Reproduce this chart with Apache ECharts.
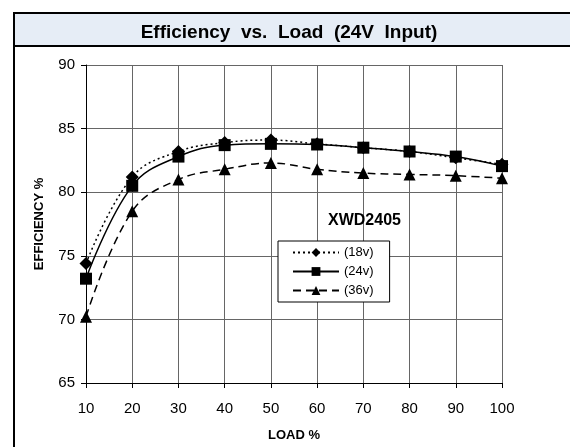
<!DOCTYPE html>
<html>
<head>
<meta charset="utf-8">
<script src="https://cdn.jsdelivr.net/npm/echarts@6/dist/echarts.min.js"></script>
<style>
  html, body { margin: 0; padding: 0; background: #fff; }
  #chart { width: 570px; height: 447px; }
</style>
</head>
<body>
<div id="chart"></div>
<script>
  const loads = [10, 20, 30, 40, 50, 60, 70, 80, 90, 100];
  const eff18 = [74.4, 81.2, 83.2, 83.9, 84.1, 83.8, 83.5, 83.2, 82.7, 82.2];
  const eff24 = [73.2, 80.5, 82.8, 83.7, 83.8, 83.75, 83.5, 83.2, 82.8, 82.05];
  const eff36 = [70.2, 78.5, 81.0, 81.8, 82.3, 81.8, 81.5, 81.4, 81.3, 81.1];

  const pairs = ys => loads.map((x, i) => [x, ys[i]]);
  const font = "Arial, 'Liberation Sans', sans-serif";

  const chart = echarts.init(document.getElementById("chart"), null, { renderer: "canvas" });

  function lineSeries(name, ys, symbol, size, type) {
    return {
      name, type: "line", data: pairs(ys), smooth: 0.4,
      symbol, symbolSize: size,
      lineStyle: { color: "#000", width: 1.5, type },
      itemStyle: { color: "#000" },
      z: 3
    };
  }

  chart.setOption({
    animation: false,
    backgroundColor: "#fff",
    graphic: [
      { type: "rect", shape: { x: 14, y: 13, width: 570, height: 450 }, style: { fill: "#fff", stroke: "#000", lineWidth: 2 }, z: -10 },
      { type: "rect", shape: { x: 15, y: 14, width: 560, height: 32 }, style: { fill: "#e6edf6" }, z: -9 },
      { type: "line", shape: { x1: 14, y1: 46, x2: 570, y2: 46 }, style: { stroke: "#000", lineWidth: 2 }, z: -8 },
      { type: "text", left: 328, top: 213, style: { text: "XWD2405", font: "bold 16px " + font, fill: "#000" }, z: 10 }
    ],
    title: {
      text: "Efficiency  vs.  Load  (24V  Input)",
      left: 284, top: 18, textAlign: "center",
      textStyle: { fontFamily: font, fontSize: 19, fontWeight: "bold", color: "#000" }
    },
    legend: {
      orient: "vertical", left: 278, top: 241,
      itemWidth: 46, itemHeight: 11, itemGap: 6,
      padding: [5, 16, 5, 14],
      backgroundColor: "#fff", borderColor: "#000", borderWidth: 1,
      textStyle: { fontFamily: font, fontSize: 13, color: "#000" },
      data: ["(18v)", "(24v)", "(36v)"]
    },
    grid: { left: 86, right: 68, top: 65, bottom: 62 },
    xAxis: {
      type: "value", min: 10, max: 100, interval: 10,
      name: "LOAD %", nameLocation: "middle", nameGap: 46,
      nameTextStyle: { fontFamily: font, fontSize: 13, fontWeight: "bold", color: "#000" },
      axisLine: { lineStyle: { color: "#000", width: 1 } },
      axisTick: { lineStyle: { color: "#000" }, length: 5 },
      axisLabel: { fontFamily: font, fontSize: 15, color: "#000", margin: 18 },
      splitLine: { show: true, lineStyle: { color: "#666", width: 1 } }
    },
    yAxis: {
      type: "value", min: 65, max: 90, interval: 5,
      name: "EFFICIENCY %", nameLocation: "middle", nameGap: 40,
      nameTextStyle: { fontFamily: font, fontSize: 13, fontWeight: "bold", color: "#000" },
      axisLine: { show: true, lineStyle: { color: "#000", width: 1 } },
      axisTick: { show: true, lineStyle: { color: "#000" }, length: 5 },
      axisLabel: { fontFamily: font, fontSize: 15, color: "#000", margin: 11 },
      splitLine: { show: true, lineStyle: { color: "#666", width: 1 } }
    },
    series: [
      lineSeries("(18v)", eff18, "diamond", 13, [2, 3]),
      lineSeries("(24v)", eff24, "rect", 12, "solid"),
      lineSeries("(36v)", eff36, "triangle", 12, [8, 5])
    ]
  });
</script>
</body>
</html>
